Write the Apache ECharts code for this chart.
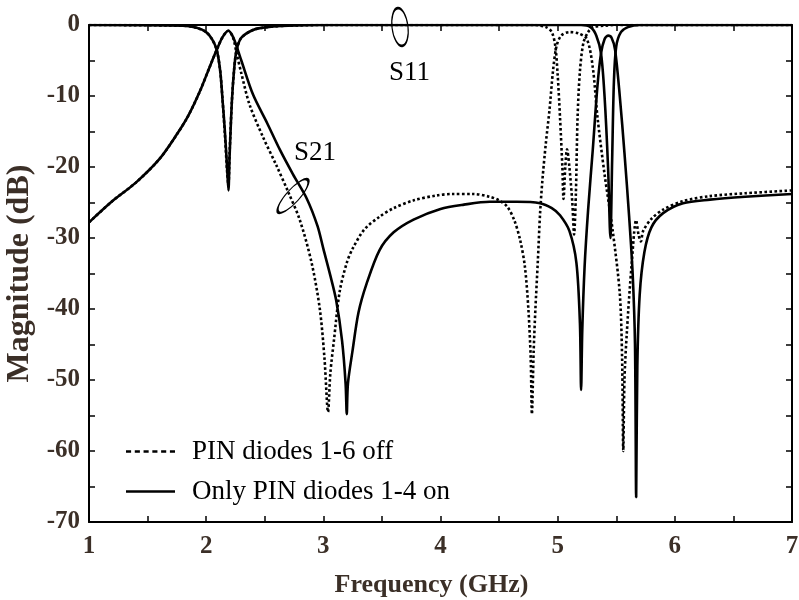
<!DOCTYPE html>
<html><head><meta charset="utf-8">
<script src="https://cdn.jsdelivr.net/npm/echarts@6/dist/echarts.min.js"></script>
<style>html,body{margin:0;padding:0;background:#fff}#c{width:799px;height:600px}</style>
</head><body><div id="c"></div>
<script>
// Frequency (GHz), Magnitude (dB)
const offS21 = [[1.0,-27.8],[1.2,-24.8],[1.4,-22.2],[1.6,-18.9],[1.75,-15.4],[1.85,-12.7],[1.95,-9.2],[2.03,-5.9],[2.09,-3.5],[2.14,-1.7],[2.19,-0.8],[2.23,-1.8],[2.26,-4.0],[2.3,-6.8],[2.37,-11.2],[2.48,-15.6],[2.6,-19.8],[2.7,-23.5],[2.8,-27.5],[2.9,-33.5],[2.97,-40],[3.01,-47],[3.04,-54.5],[3.06,-49],[3.09,-44.5],[3.14,-37.5],[3.2,-33.5],[3.25,-31.5],[3.35,-28.8],[3.48,-27],[3.6,-25.8],[3.77,-24.7],[3.97,-24.0],[4.1,-23.8],[4.28,-23.8],[4.42,-24.2],[4.5,-24.7],[4.57,-25.6],[4.63,-27.5],[4.68,-30.3],[4.72,-34],[4.75,-40],[4.77,-47],[4.78,-54.8],[4.795,-46],[4.81,-40],[4.83,-33.5],[4.85,-26.5],[4.87,-21.8],[4.9,-16.5],[4.93,-12],[4.96,-6.5],[4.99,-3],[5.03,-1.5],[5.1,-1.0],[5.18,-1.2],[5.25,-2.0],[5.3,-6],[5.34,-13],[5.4,-21],[5.47,-29],[5.53,-37.8],[5.55,-47],[5.56,-60],[5.57,-50],[5.59,-43.4],[5.63,-34],[5.67,-27.5],[5.69,-29.5],[5.71,-30.5],[5.73,-29],[5.8,-27.3],[5.9,-26],[6.07,-24.8],[6.3,-24.1],[6.6,-23.7],[7.0,-23.3]];
const offS11 = [[1.0,0],[1.8,-0.1],[1.92,-0.4],[2.0,-1.0],[2.05,-2.0],[2.09,-3.5],[2.12,-6.5],[2.14,-10.6],[2.16,-15.5],[2.18,-21],[2.19,-22.5],[2.2,-18],[2.22,-10.6],[2.24,-6],[2.26,-3.5],[2.3,-1.8],[2.4,-0.7],[2.52,-0.3],[2.7,-0.1],[3.0,0],[4.8,0],[4.9,-0.3],[4.95,-1],[4.98,-3],[5.0,-7],[5.02,-13],[5.04,-20],[5.05,-24.5],[5.065,-20],[5.08,-17.5],[5.1,-20],[5.125,-25],[5.14,-29.5],[5.155,-24],[5.17,-13],[5.19,-6.5],[5.22,-2.5],[5.26,-1],[5.3,-0.3],[5.4,-0.1],[5.5,0],[7.0,0]];
const onS21 = [[1.0,-27.8],[1.2,-24.8],[1.4,-22.2],[1.6,-18.9],[1.75,-15.4],[1.85,-12.7],[1.95,-9.2],[2.03,-5.9],[2.09,-3.5],[2.14,-1.7],[2.19,-0.8],[2.23,-1.7],[2.27,-3.5],[2.3,-5.0],[2.4,-9.8],[2.52,-13.8],[2.63,-17.6],[2.74,-21.0],[2.86,-24.5],[2.95,-28.3],[3.0,-31.5],[3.06,-35.3],[3.11,-38.8],[3.16,-44.5],[3.19,-50.5],[3.2,-54.8],[3.21,-50.5],[3.25,-45.8],[3.3,-40.5],[3.37,-36.4],[3.48,-31.7],[3.6,-29.2],[3.77,-27.4],[4.0,-25.9],[4.2,-25.3],[4.42,-24.9],[4.65,-24.9],[4.85,-25.1],[4.95,-25.8],[5.02,-26.8],[5.1,-29.0],[5.16,-33.5],[5.19,-42],[5.2,-51.4],[5.21,-43],[5.23,-34],[5.26,-26],[5.3,-17.5],[5.34,-8.5],[5.37,-4],[5.4,-2],[5.43,-1.5],[5.46,-1.8],[5.49,-3.5],[5.53,-10],[5.57,-18],[5.61,-27],[5.64,-35],[5.66,-45],[5.67,-66.5],[5.68,-48],[5.7,-38],[5.74,-32],[5.8,-28.5],[5.9,-26.5],[6.07,-25.1],[6.3,-24.6],[6.6,-24.2],[7.0,-23.8]];
const onS11 = [[1.0,0],[1.8,-0.1],[1.92,-0.4],[2.0,-1.0],[2.05,-2.0],[2.09,-3.5],[2.12,-6.5],[2.14,-10.6],[2.16,-15],[2.18,-20.5],[2.19,-23.3],[2.2,-18.5],[2.22,-10.6],[2.24,-6],[2.26,-3.5],[2.3,-1.8],[2.4,-0.7],[2.52,-0.3],[2.7,-0.1],[3.0,0],[5.2,0],[5.28,-0.3],[5.33,-1.5],[5.37,-4],[5.4,-10],[5.43,-20],[5.45,-30],[5.465,-19],[5.48,-8],[5.5,-3],[5.54,-1],[5.6,-0.3],[5.7,0],[7.0,0]];

const legendNames = ['PIN diodes 1-6 off', 'Only PIN diodes 1-4 on'];
const xName = 'Frequency (GHz)';
const yName = 'Magnitude (dB)';

const axisColor = '#3b2f27';
const serif = '"Liberation Serif", "Times New Roman", serif';

// legend sample shapes (48 x 2.6 units)
const dashIcon = 'path://M0,0h5v2.6h-5z M8.6,0h5v2.6h-5z M17.2,0h5v2.6h-5z M25.8,0h5v2.6h-5z M34.4,0h5v2.6h-5z M43,0h5v2.6h-5z';
const solidIcon = 'path://M0,0h48v2.6h-48z';

const chart = echarts.init(document.getElementById('c'), null, {renderer: 'canvas'});

function mkX(pos, showLabel) {
  return {
    type: 'value', min: 1, max: 7, interval: 0.5, position: pos,
    name: showLabel ? xName : '', nameLocation: 'middle', nameGap: 50,
    nameTextStyle: {fontFamily: serif, fontWeight: 'bold', fontSize: 26, color: axisColor, padding: [0, 18, 0, 0]},
    axisLine: {show: true, onZero: false, lineStyle: {color: '#000', width: 2}},
    axisTick: {show: true, inside: true, length: 6, lineStyle: {color: '#000', width: 1.5}},
    axisLabel: {show: showLabel, margin: 12, fontFamily: serif, fontWeight: 'bold', fontSize: 25, color: axisColor,
      formatter: v => (Math.abs(v - Math.round(v)) < 1e-9 ? String(Math.round(v)) : '')},
    splitLine: {show: false}
  };
}
function mkY(pos, showLabel) {
  return {
    type: 'value', min: -70, max: 0, interval: 5, position: pos,
    name: showLabel ? yName : '', nameLocation: 'middle', nameGap: 43, nameRotate: 90,
    nameTextStyle: {fontFamily: serif, fontWeight: 'bold', fontSize: 32, color: axisColor},
    axisLine: {show: true, onZero: false, lineStyle: {color: '#000', width: 2}},
    axisTick: {show: true, inside: true, length: 6, lineStyle: {color: '#000', width: 1.5}},
    axisLabel: {show: showLabel, margin: 9, fontFamily: serif, fontWeight: 'bold', fontSize: 25, color: axisColor,
      formatter: v => (v % 10 === 0 ? String(v) : '')},
    splitLine: {show: false}
  };
}

const dotted = {color: '#000', width: 2.6, type: [2.6, 2.4]};
const solid = {color: '#000', width: 2.6, type: 'solid'};

function ser(name, data, ls) {
  return {name, type: 'line', data, xAxisIndex: 0, yAxisIndex: 0, showSymbol: false, symbol: 'none',
    smooth: 0.3, lineStyle: ls, itemStyle: {color: '#000'}, clip: true, animation: false};
}

chart.setOption({
  animation: false,
  backgroundColor: '#fff',
  grid: {left: 89, right: 7, top: 25, bottom: 78, containLabel: false, outerBoundsMode: 'none'},
  xAxis: [mkX('bottom', true), mkX('top', false)],
  yAxis: [mkY('left', true), mkY('right', false)],
  legend: {
    orient: 'vertical', left: 121, top: 433, itemWidth: 49, itemHeight: 14, itemGap: 13,
    selectedMode: false, symbolKeepAspect: true,
    data: [{name: legendNames[0], icon: dashIcon}, {name: legendNames[1], icon: solidIcon}],
    itemStyle: {color: '#000', borderWidth: 0},
    textStyle: {fontFamily: serif, fontSize: 27, color: '#000', padding: [0, 0, 0, 12]}
  },
  series: [
    ser(legendNames[0], offS11, dotted),
    ser(legendNames[0], offS21, dotted),
    ser(legendNames[1], onS11, solid),
    ser(legendNames[1], onS21, solid)
  ],
  graphic: [
    {type: 'circle', shape: {cx: 0, cy: 0, r: 19}, x: 400, y: 27, scaleX: 0.42, rotation: 0.12,
      style: {fill: 'none', stroke: '#000', lineWidth: 1.8, strokeNoScale: true}, z: 100},
    {type: 'circle', shape: {cx: 0, cy: 0, r: 22}, x: 293, y: 196, scaleY: 0.3, rotation: 0.84,
      style: {fill: 'none', stroke: '#000', lineWidth: 1.8, strokeNoScale: true}, z: 100},
    {type: 'text', x: 389, y: 73, style: {text: 'S11', fontFamily: serif, fontSize: 27, fill: '#000', verticalAlign: 'middle', align: 'left'}, z: 100},
    {type: 'text', x: 294, y: 153, style: {text: 'S21', fontFamily: serif, fontSize: 27, fill: '#000', verticalAlign: 'middle', align: 'left'}, z: 100}
  ]
});
</script></body></html>
